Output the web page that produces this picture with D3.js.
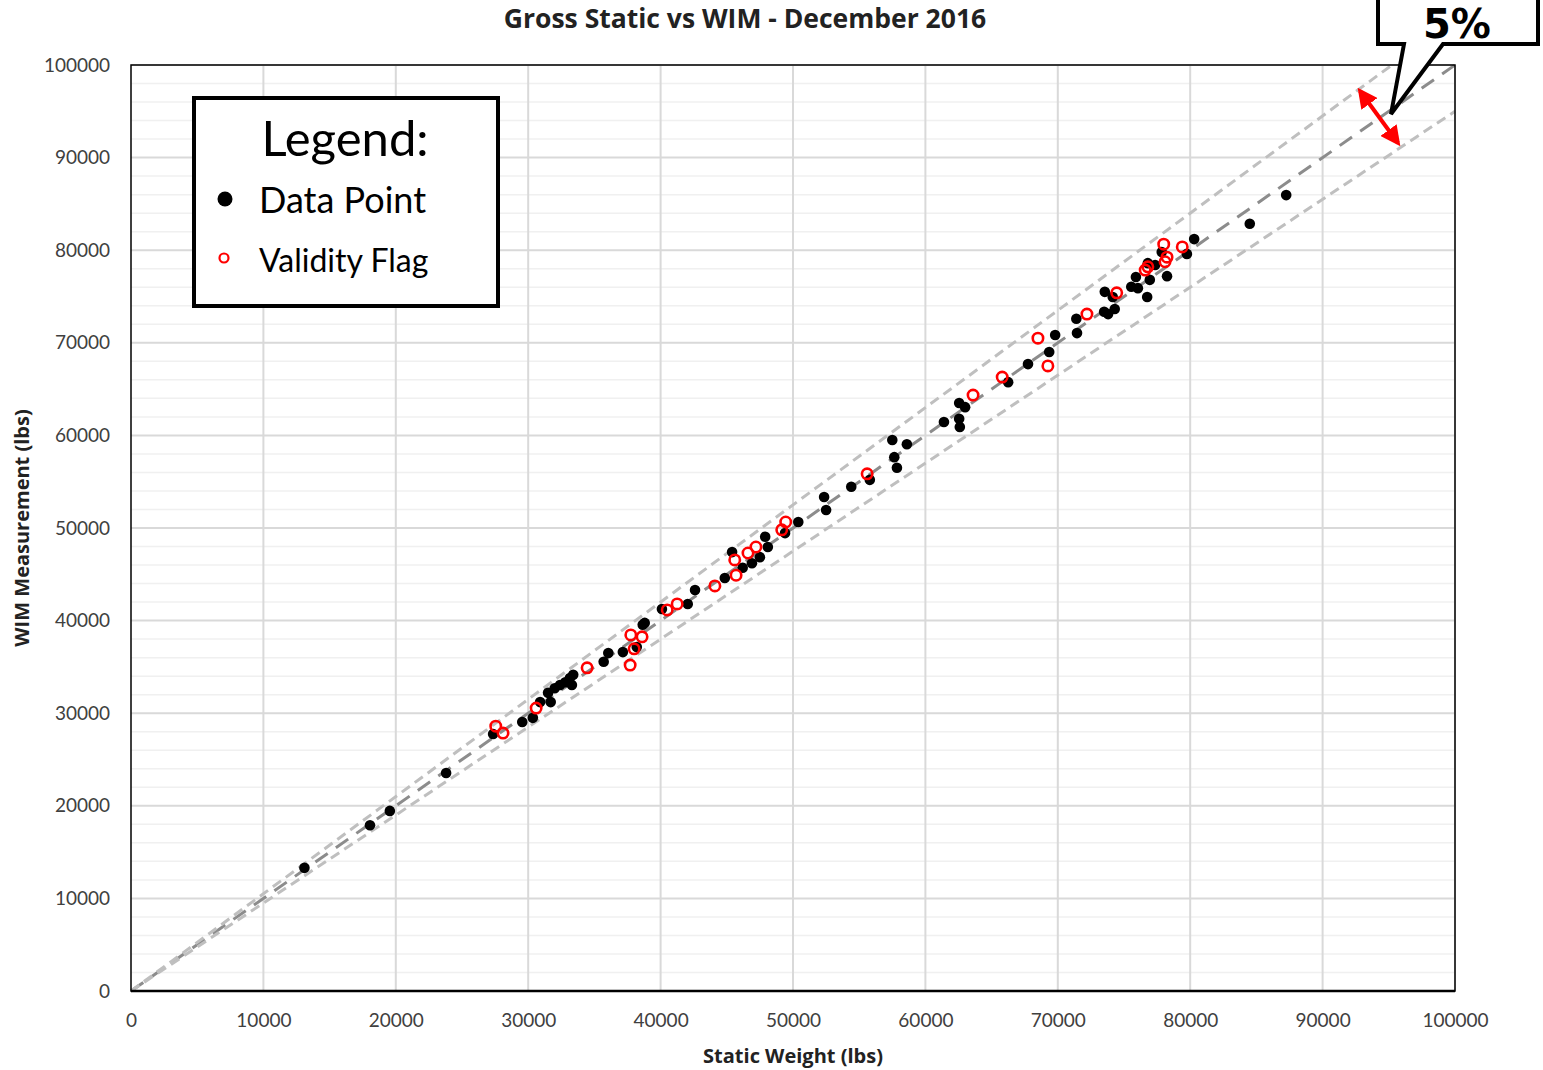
<!DOCTYPE html>
<html><head><meta charset="utf-8">
<script src="https://cdn.jsdelivr.net/npm/d3@7"></script>
<style>body{margin:0;background:#fff;} svg{display:block;}</style>
</head><body>
<svg id="c" width="1543" height="1070"></svg>
<script>
const title = "Gross Static vs WIM - December 2016";
const xTitle = "Static Weight (lbs)";
const yTitle = "WIM Measurement (lbs)";
const xTicks = [0,10000,20000,30000,40000,50000,60000,70000,80000,90000,100000];
const yTicks = [0,10000,20000,30000,40000,50000,60000,70000,80000,90000,100000];
const minorY = d3.range(0, 100001, 2000);
const tolerance = 0.05;

const pointX = [13100,18050,19550,23800,27350,29550,30350,30900,31500,31700,32000,32400,32800,33150,33400,33300,35700,36050,37150,38200,38650,38800,40100,42050,42600,44850,45400,46200,46900,47500,47900,48100,49400,50400,52350,52500,54400,55800,57500,57650,57850,58600,61400,62550,62600,62550,63000,66250,67750,69350,69800,71400,71450,73550,74150,73500,74300,73800,75550,75900,76050,76750,76950,76800,77850,78250,79750,80300,84500,87250,77350];
const pointY = [13300,17900,19450,23550,27750,29050,29500,31200,32200,31200,32700,33050,33350,33800,34150,33050,35550,36500,36600,37150,39550,39750,41250,41800,43300,44600,47400,45700,46200,46850,49050,47950,49450,50650,53350,51950,54450,55200,59500,57650,56500,59050,61450,61800,60900,63500,63050,65750,67700,69000,70850,72600,71050,75500,74950,73350,73650,73100,76050,77100,75900,74950,76800,78600,79800,77200,79600,81200,82850,85950,78400];

const flagX = [27550,28100,30600,34450,37700,37750,38000,38600,40500,41250,44100,45700,45600,46600,47200,49150,49450,55600,63600,65800,68500,69250,72200,74450,76600,76800,78000,78250,78100,79400];
const flagY = [28600,27850,30550,34900,35200,38450,36950,38250,41150,41800,43750,44900,46550,47300,47950,49800,50650,55850,64350,66300,70500,67500,73100,75400,77850,78200,80650,79250,78750,80350];

const svg = d3.select("#c");
const L = 131, R = 1455, T = 65, B = 991;
const x = d3.scaleLinear().domain([0,100000]).range([L,R]);
const y = d3.scaleLinear().domain([0,100000]).range([B,T]);
const font = "Lato, 'Open Sans', sans-serif";

// gridlines
svg.append("g").selectAll("line").data(minorY.filter(v=>v%10000!==0)).join("line")
  .attr("x1",L).attr("x2",R).attr("y1",d=>y(d)).attr("y2",d=>y(d))
  .attr("stroke","#f0f0f0").attr("stroke-width",1.5);
svg.append("g").selectAll("line").data(yTicks.slice(1)).join("line")
  .attr("x1",L).attr("x2",R).attr("y1",d=>y(d)).attr("y2",d=>y(d))
  .attr("stroke","#d9d9d9").attr("stroke-width",2);
svg.append("g").selectAll("line").data(xTicks.slice(1)).join("line")
  .attr("y1",T).attr("y2",B).attr("x1",d=>x(d)).attr("x2",d=>x(d))
  .attr("stroke","#d9d9d9").attr("stroke-width",2);

// reference lines
const refLines = [
  {pts:[[0,0],[100000,100000]], color:"#8c8c8c", dash:"15,10"},
  {pts:[[0,0],[100000/(1+tolerance),100000]], color:"#bfbfbf", dash:"10,6"},
  {pts:[[0,0],[100000,100000*(1-tolerance)]], color:"#bfbfbf", dash:"10,6"}
];
const line = d3.line().x(d=>x(d[0])).y(d=>y(d[1]));
svg.append("g").selectAll("path").data(refLines).join("path")
  .attr("d",d=>line(d.pts)).attr("fill","none")
  .attr("stroke",d=>d.color).attr("stroke-width",3).attr("stroke-dasharray",d=>d.dash);

// frame
svg.append("rect").attr("x",L).attr("y",T).attr("width",R-L).attr("height",B-T)
  .attr("fill","none").attr("stroke","#000").attr("stroke-width",1.5);
svg.append("line").attr("x1",L).attr("x2",R).attr("y1",B).attr("y2",B).attr("stroke","#000").attr("stroke-width",2.5);

// axes tick labels
const xAxis = d3.axisBottom(x).tickValues(xTicks).tickSize(0).tickPadding(23).tickFormat(d3.format("d"));
const gx = svg.append("g").attr("transform",`translate(0,${B})`).call(xAxis);
gx.select(".domain").remove();
gx.selectAll("text").attr("font-family",font).attr("font-size",19).attr("fill","#404040");
const yAxis = d3.axisLeft(y).tickValues(yTicks).tickSize(0).tickPadding(21).tickFormat(d3.format("d"));
const gy = svg.append("g").attr("transform",`translate(${L},0)`).call(yAxis);
gy.select(".domain").remove();
gy.selectAll("text").attr("font-family",font).attr("font-size",19).attr("fill","#404040");

// points
const pts = pointX.map((v,i)=>[v,pointY[i]]);
svg.append("g").selectAll("circle").data(pts).join("circle")
  .attr("cx",d=>x(d[0])).attr("cy",d=>y(d[1])).attr("r",5.3).attr("fill","#000");
const flags = flagX.map((v,i)=>[v,flagY[i]]);
svg.append("g").selectAll("circle").data(flags).join("circle")
  .attr("cx",d=>x(d[0])).attr("cy",d=>y(d[1])).attr("r",5.2).attr("fill","none")
  .attr("stroke","#ff0000").attr("stroke-width",2.6);

// titles
svg.append("text").attr("x",745).attr("y",28).attr("text-anchor","middle")
  .attr("font-family","'Open Sans', sans-serif").attr("font-weight","bold").attr("font-size",26.5)
  .attr("fill","#222").text(title);
svg.append("text").attr("x",(L+R)/2).attr("y",1063).attr("text-anchor","middle")
  .attr("font-family","'Open Sans', sans-serif").attr("font-weight","bold").attr("font-size",20)
  .attr("fill","#222").text(xTitle);
svg.append("text").attr("transform",`translate(29,${(T+B)/2}) rotate(-90)`).attr("text-anchor","middle")
  .attr("font-family","'Open Sans', sans-serif").attr("font-weight","bold").attr("font-size",20)
  .attr("fill","#222").text(yTitle);

// legend
const lg = svg.append("g");
lg.append("rect").attr("x",194).attr("y",98).attr("width",304).attr("height",208)
  .attr("fill","#fff").attr("stroke","#000").attr("stroke-width",4);
lg.append("text").attr("x",345).attr("y",156).attr("text-anchor","middle")
  .attr("font-family",font).attr("font-size",49).attr("fill","#000").text("Legend:");
lg.append("circle").attr("cx",225).attr("cy",199).attr("r",7.5).attr("fill","#000");
lg.append("text").attr("x",259).attr("y",213).attr("font-family",font).attr("font-size",36).attr("fill","#000").text("Data Point");
lg.append("circle").attr("cx",224).attr("cy",258).attr("r",4.5).attr("fill","none").attr("stroke","#ff0000").attr("stroke-width",2.2);
lg.append("text").attr("x",259).attr("y",272).attr("font-family",font).attr("font-size",32).attr("fill","#000").text("Validity Flag");

// red double arrow
const defs = svg.append("defs");
defs.append("marker").attr("id","ah").attr("viewBox","0 0 10 10").attr("refX",8).attr("refY",5)
  .attr("markerWidth",5).attr("markerHeight",5).attr("orient","auto-start-reverse")
  .append("path").attr("d","M0,0 L10,5 L0,10 z").attr("fill","#ff0000");
svg.append("line").attr("x1",1360).attr("y1",91).attr("x2",1398).attr("y2",143)
  .attr("stroke","#ff0000").attr("stroke-width",4)
  .attr("marker-start","url(#ah)").attr("marker-end","url(#ah)");

// callout
svg.append("path").attr("d","M1378,-6 L1538,-6 L1538,44 L1443,44 L1391,114 L1404,44 L1378,44 Z")
  .attr("fill","#fff").attr("stroke","#000").attr("stroke-width",4).attr("stroke-linejoin","miter");
svg.append("text").attr("x",1457).attr("y",37.5).attr("text-anchor","middle")
  .attr("font-family","'DejaVu Sans', sans-serif").attr("font-weight","bold").attr("font-size",40)
  .attr("fill","#000").text("5%");
</script>
</body></html>
